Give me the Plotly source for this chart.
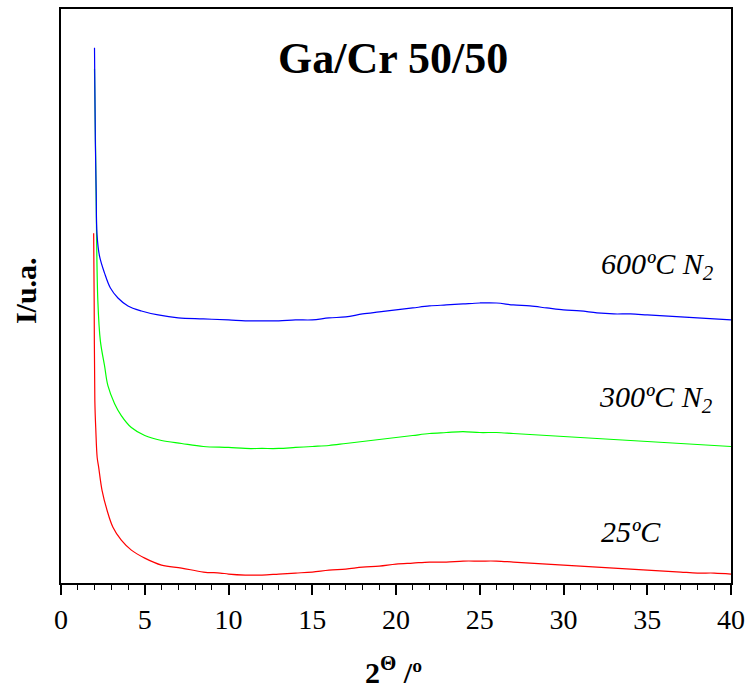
import plotly.graph_objects as go

# 2-theta positions (degrees)
x_600 = [2.0, 2.05, 2.1, 2.15, 2.3, 2.6, 2.95, 3.4, 4.0, 4.8, 5.8, 7.0, 8.5,
         10, 11, 12, 13, 14, 15, 16, 17, 18, 19, 20, 21, 22, 23, 24, 25, 26,
         27, 28, 29, 30, 31, 32, 33, 34, 35, 36, 37, 38, 39, 40]
i_600 = [537, 443, 393, 350, 328, 311, 296, 286, 278, 273, 269, 266, 265,
         264, 263, 263, 263, 264, 264, 266, 267, 270, 272, 274, 276, 278, 279, 280, 281, 281,
         279, 278, 276, 274, 273, 271, 270, 270, 269, 268, 267, 266, 265, 264]

x_300 = [2.0, 2.05, 2.1, 2.2, 2.35, 2.6, 2.8, 3.2, 3.6, 4.2, 5.0, 6.0, 7.2, 8.5,
         10, 11, 12, 13, 14, 15, 16, 17, 18, 19, 20, 21, 22, 23, 24, 25, 26,
         27, 28, 29, 30, 31, 32, 33, 34, 35, 36, 37, 38, 39, 40]
i_300 = [516, 453, 383, 283, 243, 218, 198, 180, 168, 156, 148, 143, 140, 137,
         136, 135, 135, 135, 136, 137, 138, 140, 142, 144, 146, 148, 150, 151, 152, 151, 151,
         150, 149, 148, 147, 146, 145, 144, 143, 142, 141, 140, 139, 138, 137]

x_25 = [1.95, 1.98, 2.02, 2.08, 2.16, 2.25, 2.45, 2.75, 3.1, 3.6, 4.2, 5.0, 6.0, 7.2, 8.5,
        9.5, 10, 11, 12, 13, 14, 15, 16, 17, 18, 19, 20, 21, 22, 23, 24, 25, 26,
        27, 28, 29, 30, 31, 32, 33, 34, 35, 36, 37, 38, 39, 40]
i_25 = [351, 283, 183, 153, 126, 116, 93, 73, 56, 43, 33, 25, 18, 15, 11,
        10, 9, 8, 8, 9, 10, 11, 13, 14, 16, 17, 19, 20, 21, 21, 22, 22, 22,
        21, 20, 19, 18, 17, 16, 15, 14, 13, 12, 11, 10, 10, 9]

series = [
    ("25ºC", x_25, i_25, "#ff0000"),
    ("300ºC N2", x_300, i_300, "#00ff00"),
    ("600ºC N2", x_600, i_600, "#0000ff"),
]

fig = go.Figure()
for name, xs, ys, col in series:
    fig.add_trace(go.Scatter(x=xs, y=ys, mode="lines", name=name,
                             line=dict(color=col, width=1.2), line_shape="spline"))

serif = "Liberation Serif, Times New Roman, serif"

fig.update_layout(
    width=752, height=691,
    margin=dict(l=61, r=20, t=7, b=108),
    paper_bgcolor="white", plot_bgcolor="white",
    showlegend=False,
    xaxis=dict(range=[0, 40], tickmode="linear", tick0=0, dtick=5,
               ticks="outside", ticklen=10, tickwidth=1.5, tickcolor="black",
               minor=dict(dtick=1, ticks="outside", ticklen=5, tickwidth=1.2, tickcolor="black"),
               showline=True, linecolor="black", linewidth=2, mirror=True,
               showgrid=False, zeroline=False,
               tickfont=dict(family=serif, size=28, color="black")),
    yaxis=dict(range=[0, 576], showticklabels=False, ticks="",
               showline=True, linecolor="black", linewidth=2, mirror=True,
               showgrid=False, zeroline=False),
)

ann = [
    dict(text="<b>Ga/Cr 50/50</b>", x=0.495, y=526, xref="paper", yref="y",
         font=dict(family=serif, size=44, color="black")),
    dict(text="<i>600ºC N<sub>2</sub></i>", x=32.1, y=318, xref="x", yref="y", xanchor="left",
         font=dict(family=serif, size=30, color="black")),
    dict(text="<i>300ºC N<sub>2</sub></i>", x=32.0, y=185, xref="x", yref="y", xanchor="left",
         font=dict(family=serif, size=30, color="black")),
    dict(text="<i>25ºC</i>", x=32.1, y=52, xref="x", yref="y", xanchor="left",
         font=dict(family=serif, size=30, color="black")),
    dict(text="<b>2<sup>Θ</sup> /º</b>", x=0.496, y=-0.151, xref="paper", yref="paper",
         font=dict(family=serif, size=30, color="black")),
    dict(text="<b>I/u.a.</b>", x=-0.054, y=0.51, xref="paper", yref="paper", textangle=-90,
         font=dict(family=serif, size=30, color="black")),
]
for a in ann:
    a.setdefault("showarrow", False)
    a.setdefault("xanchor", "center")
    a.setdefault("yanchor", "middle")
    fig.add_annotation(**a)

fig.write_html("out.html")
